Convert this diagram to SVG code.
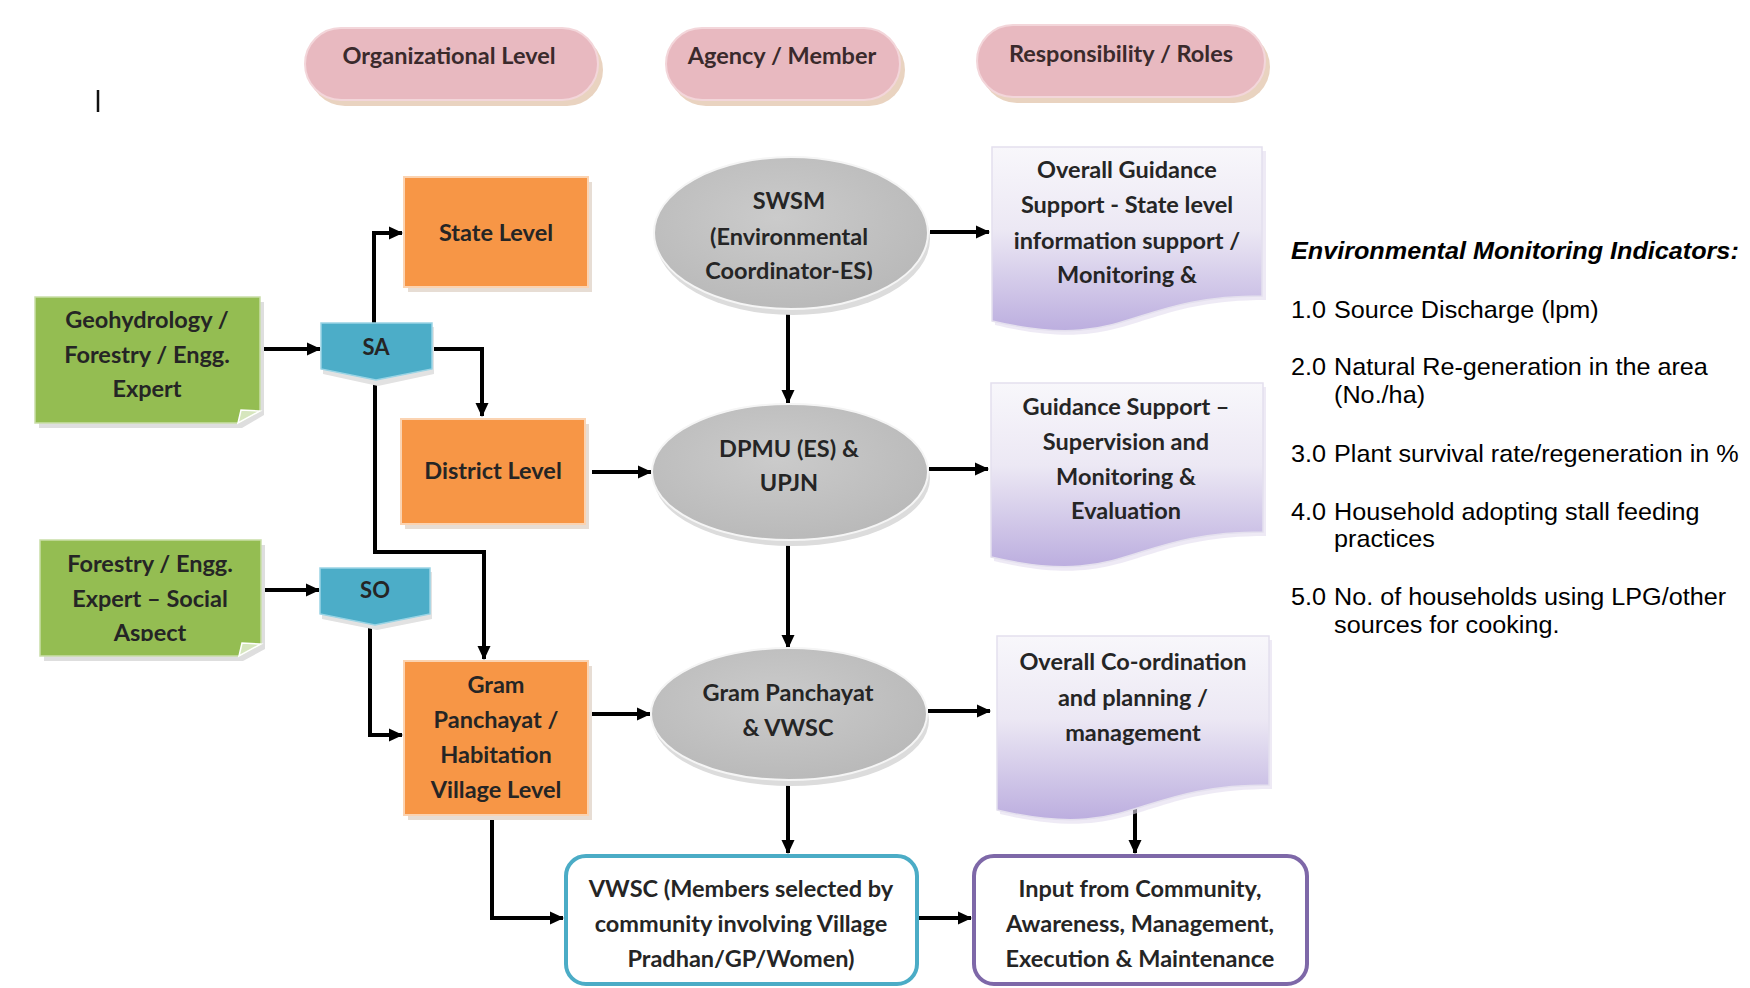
<svg xmlns="http://www.w3.org/2000/svg" width="1750" height="988" viewBox="0 0 1750 988">
  <style>
    .lbl { font-family: Lato, "Open Sans", "Liberation Sans", sans-serif; font-weight: 700; font-size: 23.5px; fill: #252525; text-anchor: middle; }
    .pilltxt { fill: #3a2a2c; }
    .pill { fill: #e8b9c0; stroke: #f3d6da; stroke-width: 2; }
    .pillsh { fill: #e9d3c0; }
    .org { fill: #f79646; stroke: #fbd3b1; stroke-width: 2; }
    .orgsh { fill: #e7ddd4; }
    .grn { fill: #94bd52; stroke: #c9dea8; stroke-width: 1.5; }
    .grnsh { fill: #dedede; }
    .fold { fill: #d6e6bd; stroke: #ffffff; stroke-width: 1.5; }
    .blu { fill: #4cadc8; stroke: #9ad4e5; stroke-width: 1.5; }
    .blush { fill: #e2e2e2; }
    .ell { fill: url(#gGray); stroke: #f5f5f5; stroke-width: 2; }
    .ellsh { fill: #dcdcdc; }
    .doc { fill: url(#gDoc); stroke: #e4e0ee; stroke-width: 1.5; }
    .docsh { fill: #e2dcef; opacity: 0.6; }
    .conn { fill: none; stroke: #000; stroke-width: 4; stroke-linejoin: miter; }
    .side { font-family: "Liberation Sans", Arial, sans-serif; font-size: 24px; fill: #000; }
  </style>
  <defs>
    <marker id="ah" markerUnits="userSpaceOnUse" markerWidth="15" markerHeight="15" refX="13" refY="7.5" orient="auto">
      <path d="M0,1 L14,7.5 L0,14 Z" fill="#000"/>
    </marker>
    <radialGradient id="gGray" cx="0.45" cy="0.4" r="0.65">
      <stop offset="0" stop-color="#cbcbcb"/>
      <stop offset="1" stop-color="#b8b8b8"/>
    </radialGradient>
    <linearGradient id="gDoc" x1="0" y1="0" x2="0" y2="1">
      <stop offset="0" stop-color="#f8f7fb"/>
      <stop offset="0.45" stop-color="#ece8f4"/>
      <stop offset="1" stop-color="#bcaedf"/>
    </linearGradient>
    <clipPath id="clipAspect"><rect x="0" y="0" width="300" height="641"/></clipPath>
    <clipPath id="clipCoord"><rect x="600" y="0" width="400" height="280"/></clipPath>
  </defs>

  <rect width="1750" height="988" fill="#ffffff"/>

  <!-- stray cursor mark -->
  <line x1="98" y1="90" x2="98" y2="112" stroke="#111" stroke-width="2.5"/>

  <!-- column headers -->
  <g id="hdr-org">
    <rect class="pillsh" x="309" y="34" width="294" height="72" rx="36"/>
    <rect class="pill" x="305" y="28" width="293" height="72" rx="36"/>
    <text class="lbl pilltxt" x="449" y="64">Organizational Level</text>
  </g>
  <g id="hdr-agency">
    <rect class="pillsh" x="670" y="34" width="235" height="72" rx="36"/>
    <rect class="pill" x="666" y="28" width="234" height="72" rx="36"/>
    <text class="lbl pilltxt" x="782" y="64">Agency / Member</text>
  </g>
  <g id="hdr-roles">
    <rect class="pillsh" x="981" y="31" width="289" height="72" rx="36"/>
    <rect class="pill" x="977" y="25" width="288" height="72" rx="36"/>
    <text class="lbl pilltxt" x="1121" y="62">Responsibility / Roles</text>
  </g>

  <!-- connectors -->
  <g id="connectors">
    <path class="conn" d="M263,349 H320" marker-end="url(#ah)"/>
    <path class="conn" d="M374,325 V233 H402" marker-end="url(#ah)"/>
    <path class="conn" d="M431,349 H482 V416" marker-end="url(#ah)"/>
    <path class="conn" d="M375,380 V552 H484 V659" marker-end="url(#ah)"/>
    <path class="conn" d="M263,590 H319" marker-end="url(#ah)"/>
    <path class="conn" d="M370,622 V735 H402" marker-end="url(#ah)"/>
    <path class="conn" d="M492,815 V918 H563" marker-end="url(#ah)"/>
    <path class="conn" d="M592,472 H651" marker-end="url(#ah)"/>
    <path class="conn" d="M592,714 H650" marker-end="url(#ah)"/>
    <path class="conn" d="M930,232 H989" marker-end="url(#ah)"/>
    <path class="conn" d="M929,469 H988" marker-end="url(#ah)"/>
    <path class="conn" d="M928,711 H990" marker-end="url(#ah)"/>
    <path class="conn" d="M788,309 V403" marker-end="url(#ah)"/>
    <path class="conn" d="M788,540 V648" marker-end="url(#ah)"/>
    <path class="conn" d="M788,779 V853" marker-end="url(#ah)"/>
    <path class="conn" d="M1135,795 V853" marker-end="url(#ah)"/>
    <path class="conn" d="M917,918 H971" marker-end="url(#ah)"/>
  </g>

  <!-- source experts -->
  <g id="expert-geo">
    <path class="grnsh" d="M39,302 H264 V415 L242,428 H39 Z"/>
    <path class="grn" d="M35,297 H260 V411 L238,423 H35 Z"/>
    <path class="fold" d="M260,411 L238,423 L241,410 Z"/>
    <text class="lbl" x="147" y="328">Geohydrology /</text>
    <text class="lbl" x="147" y="363">Forestry / Engg.</text>
    <text class="lbl" x="147" y="397">Expert</text>
  </g>
  <g id="expert-social">
    <path class="grnsh" d="M44,545 H265 V649 L243,661 H44 Z"/>
    <path class="grn" d="M40,540 H261 V644 L239,656 H40 Z"/>
    <path class="fold" d="M261,644 L239,656 L242,643 Z"/>
    <text class="lbl" x="150" y="572">Forestry / Engg.</text>
    <text class="lbl" x="150" y="607">Expert – Social</text>
    <text class="lbl" x="150" y="641" clip-path="url(#clipAspect)">Aspect</text>
  </g>

  <!-- specialists -->
  <g id="sa">
    <path class="blush" d="M323,327 H434 V374 L378,386 L323,374 Z"/>
    <path class="blu" d="M321,323 H432 V369 L376,380 L321,369 Z"/>
    <text class="lbl" x="376" y="355" style="font-size:22px">SA</text>
  </g>
  <g id="so">
    <path class="blush" d="M322,572 H432 V619 L377,630 L322,619 Z"/>
    <path class="blu" d="M320,568 H430 V614 L375,625 L320,614 Z"/>
    <text class="lbl" x="375" y="598" style="font-size:22px">SO</text>
  </g>

  <!-- organizational levels -->
  <g id="state-level">
    <rect class="orgsh" x="408" y="182" width="184" height="110"/>
    <rect class="org" x="404" y="177" width="184" height="110"/>
    <text class="lbl" x="496" y="241">State Level</text>
  </g>
  <g id="district-level">
    <rect class="orgsh" x="405" y="424" width="184" height="105"/>
    <rect class="org" x="401" y="419" width="184" height="105"/>
    <text class="lbl" x="493" y="479">District Level</text>
  </g>
  <g id="village-level">
    <rect class="orgsh" x="408" y="666" width="184" height="154"/>
    <rect class="org" x="404" y="661" width="184" height="154"/>
    <text class="lbl" x="496" y="693">Gram</text>
    <text class="lbl" x="496" y="728">Panchayat /</text>
    <text class="lbl" x="496" y="763">Habitation</text>
    <text class="lbl" x="496" y="798">Village Level</text>
  </g>

  <!-- agencies -->
  <g id="swsm">
    <ellipse class="ellsh" cx="793" cy="239" rx="137" ry="76"/>
    <ellipse class="ell" cx="791" cy="233" rx="137" ry="76"/>
    <text class="lbl" x="789" y="209">SWSM</text>
    <text class="lbl" x="789" y="245">(Environmental</text>
    <text class="lbl" x="789" y="279" clip-path="url(#clipCoord)">Coordinator-ES)</text>
  </g>
  <g id="dpmu">
    <ellipse class="ellsh" cx="792" cy="478" rx="138" ry="68"/>
    <ellipse class="ell" cx="790" cy="472" rx="138" ry="68"/>
    <text class="lbl" x="789" y="457">DPMU (ES) &amp;</text>
    <text class="lbl" x="789" y="491">UPJN</text>
  </g>
  <g id="gp-vwsc">
    <ellipse class="ellsh" cx="791" cy="720" rx="138" ry="66"/>
    <ellipse class="ell" cx="789" cy="714" rx="138" ry="66"/>
    <text class="lbl" x="788" y="701">Gram Panchayat</text>
    <text class="lbl" x="788" y="736">&amp; VWSC</text>
  </g>

  <!-- responsibilities -->
  <g id="role-state">
    <path class="docsh" d="M995,151 H1266 V300 C1131,300 1131,357 995,325 Z"/>
    <path class="doc" d="M992,147 H1262 V296 C1127,296 1127,353 992,321 Z"/>
    <text class="lbl" x="1127" y="178">Overall Guidance</text>
    <text class="lbl" x="1127" y="213">Support - State level</text>
    <text class="lbl" x="1127" y="249">information support /</text>
    <text class="lbl" x="1127" y="283">Monitoring &amp;</text>
  </g>
  <g id="role-district">
    <path class="docsh" d="M994,387 H1266 V536 C1130,536 1130,593 994,561 Z"/>
    <path class="doc" d="M991,383 H1263 V532 C1127,532 1127,589 991,557 Z"/>
    <text class="lbl" x="1126" y="415">Guidance Support –</text>
    <text class="lbl" x="1126" y="450">Supervision and</text>
    <text class="lbl" x="1126" y="485">Monitoring &amp;</text>
    <text class="lbl" x="1126" y="519">Evaluation</text>
  </g>
  <g id="role-village">
    <path class="docsh" d="M1000,640 H1272 V789 C1136,789 1136,846 1000,814 Z"/>
    <path class="doc" d="M997,636 H1269 V785 C1133,785 1133,842 997,810 Z"/>
    <text class="lbl" x="1133" y="670">Overall Co-ordination</text>
    <text class="lbl" x="1133" y="706">and planning /</text>
    <text class="lbl" x="1133" y="741">management</text>
  </g>

  <!-- community level -->
  <g id="vwsc">
    <rect x="566" y="856" width="351" height="128" rx="20" fill="#ffffff" stroke="#4bacc6" stroke-width="4"/>
    <text class="lbl" x="741" y="897">VWSC (Members selected by</text>
    <text class="lbl" x="741" y="932">community involving Village</text>
    <text class="lbl" x="741" y="967">Pradhan/GP/Women)</text>
  </g>
  <g id="community-input">
    <rect x="974" y="856" width="333" height="128" rx="20" fill="#ffffff" stroke="#7e68a8" stroke-width="4"/>
    <text class="lbl" x="1140" y="897">Input from Community,</text>
    <text class="lbl" x="1140" y="932">Awareness, Management,</text>
    <text class="lbl" x="1140" y="967">Execution &amp; Maintenance</text>
  </g>

  <!-- indicator list -->
  <g id="indicators" class="side" transform="translate(1291,0) scale(1.05,1)">
    <text x="0" y="259" style="font-weight:700;font-style:italic">Environmental Monitoring Indicators:</text>
    <text x="0" y="318">1.0</text><text x="41" y="318">Source Discharge (lpm)</text>
    <text x="0" y="375">2.0</text><text x="41" y="375">Natural Re-generation in the area</text>
    <text x="41" y="403">(No./ha)</text>
    <text x="0" y="462">3.0</text><text x="41" y="462">Plant survival rate/regeneration in %</text>
    <text x="0" y="520">4.0</text><text x="41" y="520">Household adopting stall feeding</text>
    <text x="41" y="547">practices</text>
    <text x="0" y="605">5.0</text><text x="41" y="605">No. of households using LPG/other</text>
    <text x="41" y="633">sources for cooking.</text>
  </g>
</svg>
